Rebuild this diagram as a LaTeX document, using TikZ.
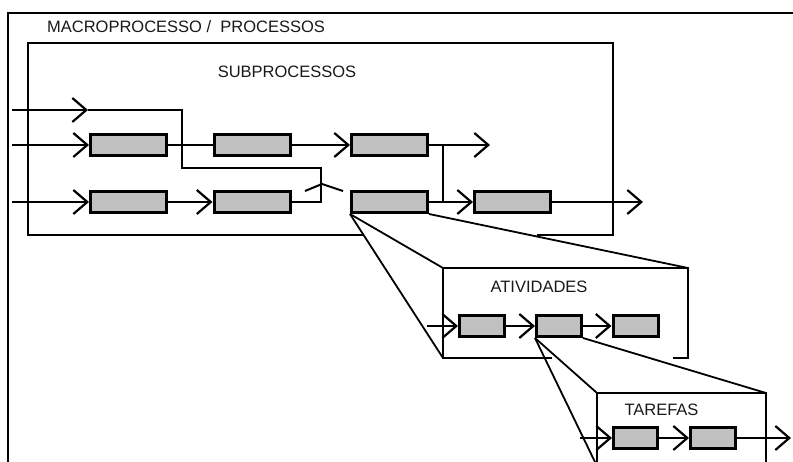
\documentclass[tikz,border=0pt]{standalone}
\usepackage{fontspec}
\setmainfont{Liberation Sans}
\usetikzlibrary{arrows.meta,calc}
\definecolor{boxgray}{HTML}{C0C0C0}
\begin{document}
\begin{tikzpicture}[x=1pt,y=-1pt,
  box/.style={draw, line width=3pt, fill=boxgray, inner sep=0pt, minimum height=21pt},
  wide/.style={box, minimum width=76pt},
  narrow/.style={box, minimum width=45pt},
  flow/.style={line width=2.6pt},
  frame/.style={line width=2.8pt},
  thin/.style={line width=1.8pt},
  caption/.style={font=\fontsize{16.5}{18}\selectfont, inner sep=0pt, text=black!90},
  >={Straight Barb[length=14pt,width=24pt,line width=2.2pt]}
]
\fill[white] (0,0) rectangle (793,462);
\useasboundingbox (0,0) rectangle (793,462);

% outer frame (macroprocess)
\draw[line width=2pt] (8,470) -- (8,13) -- (800,13);
\node[caption] (macro) at (186,27) {MACROPROCESSO /\ \ PROCESSOS};

% subprocess frame, open where the zoom lines leave it
\draw[frame] (363,235) -- (28,235) -- (28,43) -- (613,43) -- (613,235) -- (537,235);
\node[caption] (sub) at (287,72) {SUBPROCESSOS};

% subprocess boxes
\node[wide] (A) at (128.5,145) {};
\node[wide] (B) at (252,145) {};
\node[wide] (C) at (389.5,145) {};
\node[wide] (D) at (128.5,202) {};
\node[wide] (E) at (252,202) {};
\node[wide] (F) at (389.5,202) {};
\node[wide] (G) at (512.5,202) {};

% coordinates for free ends and bends
\coordinate (in0) at (12,110);
\coordinate (mid0) at (88,110);
\coordinate (in1) at (12,145);
\coordinate (in2) at (12,202);
\coordinate (out1) at (490,145);
\coordinate (out2) at (643,202);
\coordinate (j1) at (443,145);
\coordinate (j2) at (443,202);

% top row: arrow, then the detour down to the second row
\draw[flow,->] (in0) -- (mid0);
\draw[flow] (mid0) -- (182,110) -- (182,168) -- (321,168) -- (321,202) -- (E.east);
\draw[line width=2pt] (305,191) -- (322,184) -- (343,191);

% first row
\draw[flow,->] (in1) -- (A.west);
\draw[flow] (A.east) -- (B.west);
\draw[flow,->] (B.east) -- (C.west);
\draw[flow,->] (C.east) -- (out1);
\draw[flow] (j1) -- (j2);

% second row
\draw[flow,->] (in2) -- (D.west);
\draw[flow,->] (D.east) -- (E.west);
\draw[flow,->] (F.east) -- (G.west);
\draw[flow,->] (G.east) -- (out2);

% activities frame
\coordinate (atl) at (443,268);
\coordinate (abl) at (443,358);
\coordinate (atr) at (688,268);
\draw[thin] (F.south west) -- (atl);
\draw[thin] (F.south west) -- (abl);
\draw[thin] (F.south east) -- (atr);
\draw[thin] (atl) -- (atr);
\draw[frame] (atl) -- (abl) -- (552,358);
\draw[frame] (658,268) -- (atr) -- (688,358) -- (673,358);
\node[caption] (ativ) at (539,287) {ATIVIDADES};

\node[narrow] (H) at (482,326) {};
\node[narrow] (I) at (559,326) {};
\node[narrow] (J) at (635.5,326) {};
\coordinate (ain) at (427,326);
\draw[flow,->] (ain) -- (H.west);
\draw[flow,->] (H.east) -- (I.west);
\draw[flow,->] (I.east) -- (J.west);

% tasks frame
\coordinate (ttl) at (597,393);
\coordinate (ttr) at (766,393);
\draw[thin] (I.south west) -- (ttl);
\draw[thin] (I.south west) -- ($(I.south west)!1.25!(595,462)$);
\draw[thin] (I.south east) -- (ttr);
\draw[thin] (597,470) -- (ttl) -- (ttr) -- (766,470);
\node[caption] (tar) at (661.5,410) {TAREFAS};

\node[narrow, minimum width=44pt] (K) at (635.5,438) {};
\node[narrow] (L) at (713,438) {};
\coordinate (tin) at (580,438);
\coordinate (tout) at (791,438);
\draw[flow,->] (tin) -- (K.west);
\draw[flow,->] (K.east) -- (L.west);
\draw[flow,->] (L.east) -- (tout);
\end{tikzpicture}
\end{document}
